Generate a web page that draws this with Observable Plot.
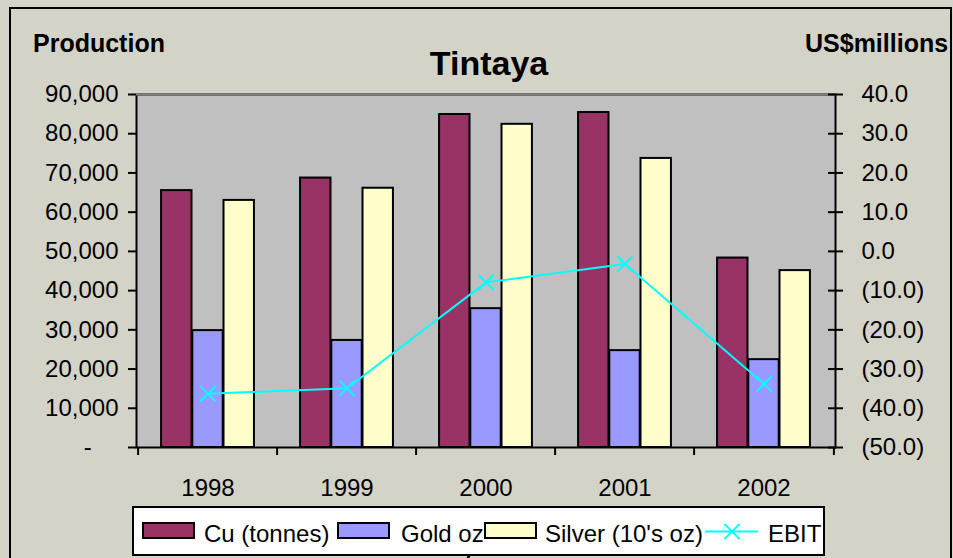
<!DOCTYPE html>
<html><head><meta charset="utf-8">
<script src="https://cdn.jsdelivr.net/npm/d3@7"></script>
<script src="https://cdn.jsdelivr.net/npm/@observablehq/plot@0.6"></script>
<style>
html,body{margin:0;padding:0;background:#d4d3c8;overflow:hidden}
svg{display:block}
</style>
</head><body><div id="chart"></div>
<script>
// ---- data ----
const years = ["1998", "1999", "2000", "2001", "2002"];
const cu = [65500, 68700, 84900, 85400, 48300];
const gold = [29800, 27300, 35400, 24700, 22400];
const silver = [63000, 66100, 82400, 73700, 45100];
const ebit = [-36.3, -34.9, -7.9, -3.2, -33.8];
const leftTicks = [0, 10000, 20000, 30000, 40000, 50000, 60000, 70000, 80000, 90000];
const rightTicks = [-50, -40, -30, -20, -10, 0, 10, 20, 30, 40];
const seriesNames = ["Cu (tonnes)", "Gold oz", "Silver (10's oz)", "EBIT"];
const colors = ["#993366", "#9999ff", "#ffffcc", "#00ffff"];
const titleText = "Tintaya";
const leftTitle = "Production";
const rightTitle = "US$millions";

// ---- layout ----
const W = 953, H = 558, mL = 136, mR = 118, mT = 94, mB = 111;
const bw = (W - mL - mR) / years.length;
const groupFrac = 0.67;
const pad = bw * (1 - groupFrac) / 2, barW = bw * groupFrac / 3;
const ebitMin = -50, ebitMax = 40, prodMax = 90000;
const ebitToY = e => (e - ebitMin) * prodMax / (ebitMax - ebitMin);
const yToEbit = v => v * (ebitMax - ebitMin) / prodMax + ebitMin;
const fmtEbit = e => { e = Math.round(e * 10) / 10; return e < 0 ? `(${(-e).toFixed(1)})` : e.toFixed(1); };
const rows = years.map((year, i) => ({year, cu: cu[i], gold: gold[i], silver: silver[i], ebit: ebit[i]}));
const keys = ["cu", "gold", "silver"];
const font = "'Liberation Sans', Arial, sans-serif";

const plot = Plot.plot({
  width: W, height: H,
  marginLeft: mL, marginRight: mR, marginTop: mT, marginBottom: mB,
  style: {background: "transparent", fontFamily: font, fontSize: "24px", color: "black", overflow: "visible"},
  x: {domain: years, padding: 0, axis: null},
  y: {domain: [0, prodMax], axis: null},
  marks: [
    Plot.frame({fill: "#c0c0c0"}),
    ...keys.map((k, i) => Plot.barY(rows, {
      x: "year", y: k, fill: colors[i], stroke: "black", strokeWidth: 2,
      insetLeft: pad + i * barW, insetRight: bw - pad - (i + 1) * barW
    })),
    Plot.line(rows, {x: "year", y: d => ebitToY(d.ebit), stroke: colors[3], strokeWidth: 2}),
    Plot.dot(rows, {x: "year", y: d => ebitToY(d.ebit), symbol: "times", r: 7, stroke: colors[3], strokeWidth: 2}),
    Plot.frame({stroke: "black", strokeWidth: 2}),
    Plot.ruleY([prodMax], {stroke: "#808080", strokeWidth: 2}),
    Plot.axisY({anchor: "left", ticks: leftTicks, tickSize: 8, tickPadding: 10, strokeWidth: 2, fontSize: 24,
      tickFormat: v => v === 0 ? "-\u00a0\u00a0\u00a0\u00a0" : d3.format(",")(v)}),
    Plot.axisY({anchor: "right", ticks: rightTicks.map(ebitToY), tickSize: 15, dx: -8, strokeWidth: 2, tickFormat: () => ""}),
    Plot.axisY({anchor: "right", ticks: rightTicks.map(ebitToY), tickSize: 0, tickPadding: 26, fontSize: 24,
      tickFormat: v => fmtEbit(yToEbit(v))}),
    Plot.axisX({anchor: "bottom", tickSize: 0, tickPadding: 31, fontSize: 24}),
    Plot.axisX({anchor: "bottom", tickSize: 8, dx: -bw / 2, strokeWidth: 2, tickFormat: () => ""}),
    Plot.axisX({anchor: "bottom", ticks: [years[years.length - 1]], tickSize: 8, dx: bw / 2, strokeWidth: 2, tickFormat: () => ""})
  ]
});
document.getElementById("chart").appendChild(plot);

const svg = d3.select(plot);
svg.append("text").attr("x", 33).attr("y", 52).attr("font-weight", "bold").attr("font-size", 25)
  .attr("text-anchor", "start").attr("font-family", font).text(leftTitle);
svg.append("text").attr("x", 805).attr("y", 52).attr("font-weight", "bold").attr("font-size", 25)
  .attr("text-anchor", "start").attr("font-family", font).text(rightTitle);
svg.append("text").attr("x", 489).attr("y", 75).attr("text-anchor", "middle").attr("font-weight", "bold")
  .attr("font-size", 34).attr("font-family", font).text(titleText);

// legend
const lg = svg.append("g").attr("font-family", font).attr("font-size", 24).attr("text-anchor", "start");
lg.append("rect").attr("x", 133).attr("y", 507).attr("width", 691).attr("height", 48)
  .attr("fill", "white").attr("stroke", "black").attr("stroke-width", 2);
const swX = [143, 338, 485];
const txX = [204, 401, 545];
[0, 1, 2].forEach(i => {
  lg.append("rect").attr("x", swX[i]).attr("y", 523).attr("width", 51).attr("height", 15)
    .attr("fill", colors[i]).attr("stroke", "black").attr("stroke-width", 2);
});
lg.append("line").attr("x1", 705).attr("x2", 758).attr("y1", 531.5).attr("y2", 531.5)
  .attr("stroke", colors[3]).attr("stroke-width", 2);
lg.append("path").attr("d", d3.symbol(d3.symbolTimes, Math.PI * 49)())
  .attr("transform", "translate(732,531.5)").attr("fill", "none").attr("stroke", colors[3]).attr("stroke-width", 2);
[0, 1, 2].forEach(i => lg.append("text").attr("x", txX[i]).attr("y", 541.5).text(seriesNames[i]));
lg.append("text").attr("x", 768).attr("y", 541.5).text(seriesNames[3]);

// outer chart border
svg.append("rect").attr("x", 10).attr("y", 8).attr("width", 941).attr("height", 570)
  .attr("fill", "none").attr("stroke", "black").attr("stroke-width", 2);
</script>
</body></html>
